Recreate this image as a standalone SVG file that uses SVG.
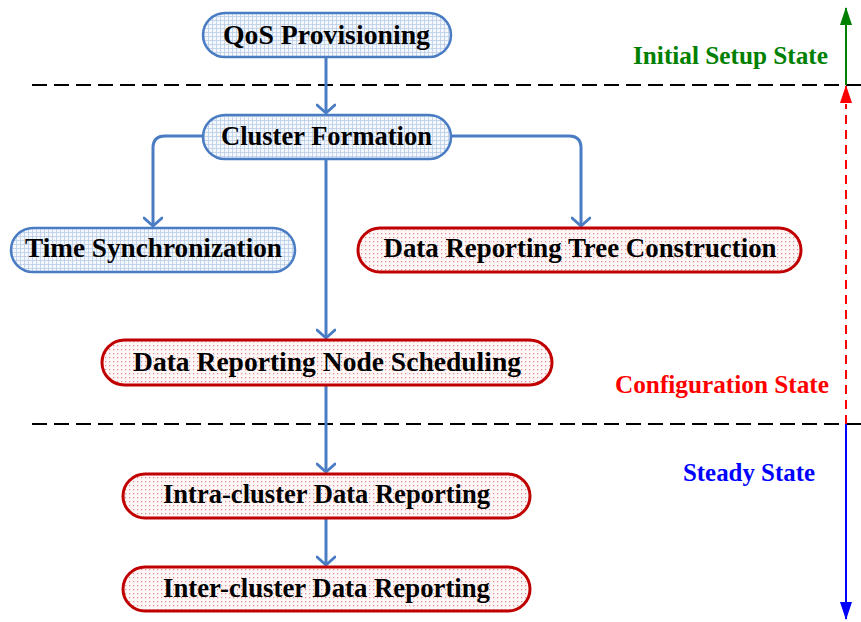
<svg xmlns="http://www.w3.org/2000/svg" width="861" height="622" viewBox="0 0 861 622">
  <defs>
    <!-- light blue grid fill for setup nodes -->
    <pattern id="gridFill" width="4" height="4" patternUnits="userSpaceOnUse">
      <rect width="4" height="4" fill="#f4f8fd"/>
      <path d="M0,0.5 H4 M0.5,0 V4" stroke="#b9cbe6" stroke-width="0.8" fill="none"/>
    </pattern>
    <!-- red dotted fill for configuration/reporting nodes -->
    <pattern id="dotFill" width="4" height="4" patternUnits="userSpaceOnUse">
      <rect width="4" height="4" fill="#fdf6f6"/>
      <rect x="1" y="1" width="1.2" height="1.2" fill="#e88a8a"/>
    </pattern>
    <!-- open chevron head for flow connectors -->
    <marker id="chev" markerWidth="20" markerHeight="20" refX="10" refY="10" orient="auto" markerUnits="userSpaceOnUse">
      <path d="M2,1 L10,10 L2,19" fill="none" stroke="#4a7cc4" stroke-width="3" stroke-linecap="round" stroke-linejoin="round"/>
    </marker>
    <!-- solid heads for the state axis -->
    <marker id="headGreen" markerWidth="18" markerHeight="12" refX="17" refY="6" orient="auto" markerUnits="userSpaceOnUse" viewBox="0 0 18 12">
      <path d="M0,0 L18,6 L0,12 Z" fill="#008000"/>
    </marker>
    <marker id="headRed" markerWidth="18" markerHeight="12" refX="17" refY="6" orient="auto" markerUnits="userSpaceOnUse" viewBox="0 0 18 12">
      <path d="M0,0 L18,6 L0,12 Z" fill="#ff0000"/>
    </marker>
    <marker id="headBlue" markerWidth="18" markerHeight="12" refX="17" refY="6" orient="auto" markerUnits="userSpaceOnUse" viewBox="0 0 18 12">
      <path d="M0,0 L18,6 L0,12 Z" fill="#0000ff"/>
    </marker>
  </defs>
  <style>
    .blueNode { fill: url(#gridFill); stroke: #4a7cc4; stroke-width: 2.5; }
    .redNode { fill: url(#dotFill); stroke: #c00000; stroke-width: 3; }
    .label { font-family: "Liberation Serif", "DejaVu Serif", serif; font-weight: bold; font-size: 26.5px; fill: #000; text-anchor: middle; }
    .state { font-family: "Liberation Serif", "DejaVu Serif", serif; font-weight: bold; font-size: 25px; }
    .flow { fill: none; stroke: #4a7cc4; stroke-width: 3; marker-end: url(#chev); }
    .divider { stroke: #000; stroke-width: 2; stroke-dasharray: 15 7; }
  </style>

  <rect width="861" height="622" fill="#ffffff"/>

  <!-- phase dividers -->
  <g id="dividers">
    <line class="divider" x1="32" y1="85" x2="861" y2="85"/>
    <line class="divider" x1="32" y1="424" x2="861" y2="424"/>
  </g>

  <!-- connectors -->
  <g id="connectors">
    <line class="flow" x1="326" y1="58" x2="326" y2="113"/>
    <path class="flow" d="M202,136 H165 Q153,136 153,148 V226"/>
    <path class="flow" d="M452,136 H569 Q581,136 581,148 V226"/>
    <line class="flow" x1="326" y1="160" x2="326" y2="338"/>
    <line class="flow" x1="326" y1="386" x2="326" y2="472"/>
    <line class="flow" x1="326" y1="519" x2="326" y2="565"/>
  </g>

  <!-- nodes -->
  <g id="qos">
    <rect class="blueNode" x="203" y="13" width="248" height="44" rx="22"/>
    <text class="label" x="326.5" y="44" textLength="207" lengthAdjust="spacingAndGlyphs">QoS Provisioning</text>
  </g>
  <g id="cluster">
    <rect class="blueNode" x="203" y="115" width="248" height="44" rx="22"/>
    <text class="label" x="326.5" y="145" textLength="211" lengthAdjust="spacingAndGlyphs">Cluster Formation</text>
  </g>
  <g id="timesync">
    <rect class="blueNode" x="11" y="228" width="284" height="44" rx="22"/>
    <text class="label" x="153.5" y="257" textLength="257" lengthAdjust="spacingAndGlyphs">Time Synchronization</text>
  </g>
  <g id="tree">
    <rect class="redNode" x="358" y="228" width="443" height="44" rx="22"/>
    <text class="label" x="580" y="257" textLength="393" lengthAdjust="spacingAndGlyphs">Data Reporting Tree Construction</text>
  </g>
  <g id="scheduling">
    <rect class="redNode" x="102" y="340" width="450" height="45" rx="22.5"/>
    <text class="label" x="327" y="371" textLength="388" lengthAdjust="spacingAndGlyphs">Data Reporting Node Scheduling</text>
  </g>
  <g id="intra">
    <rect class="redNode" x="123" y="474" width="407" height="44" rx="22"/>
    <text class="label" x="326.5" y="503" textLength="327" lengthAdjust="spacingAndGlyphs">Intra-cluster Data Reporting</text>
  </g>
  <g id="inter">
    <rect class="redNode" x="123" y="567" width="407" height="44" rx="22"/>
    <text class="label" x="326.5" y="597" textLength="327" lengthAdjust="spacingAndGlyphs">Inter-cluster Data Reporting</text>
  </g>

  <!-- state axis -->
  <g id="states">
    <line x1="846" y1="85" x2="846" y2="8" stroke="#008000" stroke-width="2" marker-end="url(#headGreen)"/>
    <line x1="846" y1="424" x2="846" y2="104" stroke="#ff0000" stroke-width="2" stroke-dasharray="9 6"/>
    <line x1="846" y1="102" x2="846" y2="86" stroke="#ff0000" stroke-width="2" marker-end="url(#headRed)"/>
    <line x1="846" y1="424" x2="846" y2="619" stroke="#0000ff" stroke-width="2" marker-end="url(#headBlue)"/>
    <text class="state" x="828" y="64" text-anchor="end" fill="#008000" textLength="195" lengthAdjust="spacingAndGlyphs">Initial Setup State</text>
    <text class="state" x="829" y="393" text-anchor="end" fill="#ff0000" textLength="214" lengthAdjust="spacingAndGlyphs">Configuration State</text>
    <text class="state" x="815" y="481" text-anchor="end" fill="#0000ff" textLength="132" lengthAdjust="spacingAndGlyphs">Steady State</text>
  </g>
</svg>
